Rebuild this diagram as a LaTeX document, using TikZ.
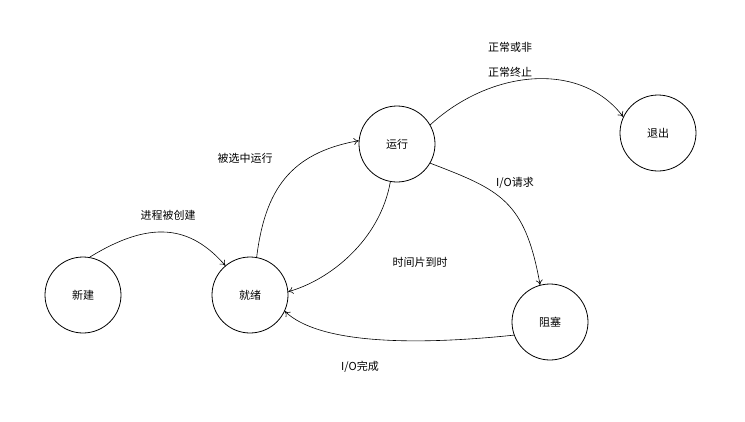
\documentclass[tikz,border=0pt]{standalone}
\usepackage{fontspec}
\setmainfont{Noto Sans CJK SC}
\usetikzlibrary{arrows.meta}
\begin{document}
\begin{tikzpicture}[x=1pt,y=-1pt,
  st/.style={circle,draw,thick,minimum size=76pt,inner sep=0pt,font=\fontsize{11}{13}\selectfont},
  lb/.style={font=\fontsize{11}{13}\selectfont},
  ar/.style={draw,semithick,-{To[length=5pt,width=7pt]}}]
\useasboundingbox (0,0) rectangle (745,421);
\node[st] (xj) at (83,295) {新建};
\node[st] (jx) at (250,295) {就绪};
\node[st] (yx) at (397,144) {运行};
\node[st] (tc) at (658,133) {退出};
\node[st] (zs) at (550,322) {阻塞};
\draw[ar] (xj.80) .. controls (150,220) and (190,225) .. (jx.130);
\draw[ar] (jx.80) .. controls (265,190) and (290,153) .. (yx.175);
\draw[ar] (yx.260) .. controls (380,240) and (330,280) .. (jx.5);
\draw[ar] (yx.30) .. controls (490,70) and (580,60) .. (tc.155);
\draw[ar] (yx.330) .. controls (500,190) and (525,200) .. (zs.105);
\draw[ar] (zs.200) .. controls (420,345) and (320,345) .. (jx.335);
\node[lb] at (168,215) {进程被创建};
\node[lb] at (245,158) {被选中运行};
\node[lb] at (510,47) {正常或非};
\node[lb] at (510,72) {正常终止};
\node[lb] at (515,183) {I/O请求};
\node[lb] at (420,262) {时间片到时};
\node[lb] at (360,367) {I/O完成};
\end{tikzpicture}
\end{document}
